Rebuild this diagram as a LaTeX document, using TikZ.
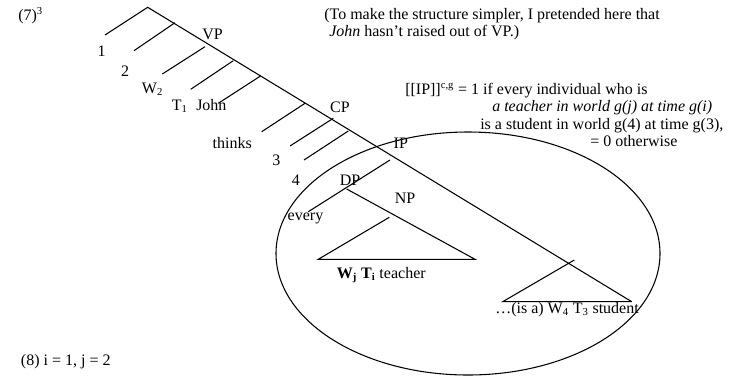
\documentclass[tikz,border=0pt]{standalone}
\usepackage{fontspec}
\setmainfont{Liberation Serif}
\usetikzlibrary{positioning}

\begin{document}
\begin{tikzpicture}[
  x=0.75pt, y=-0.75pt,
  branch/.style={draw=black, line width=0.8pt},
  lbl/.style={inner sep=0pt, anchor=base, font=\fontsize{12}{14}\selectfont},
  note/.style={inner sep=0pt, anchor=base west, font=\fontsize{12}{14}\selectfont}
]
\useasboundingbox (0,0) rectangle (739,379);

\coordinate (top) at (147.7,7.3);
\coordinate (s2) at (175,22.7);
\coordinate (sW) at (205,46.7);
\coordinate (sT) at (233.3,60.7);
\coordinate (sJ) at (260.5,76);
\coordinate (sth) at (305,103.3);
\coordinate (s3) at (333.3,118.3);
\coordinate (s4) at (348.3,131);
\coordinate (sIP) at (390,160);
\coordinate (t1) at (105,35);
\coordinate (t2) at (134,50.7);
\coordinate (tW) at (162.3,74);
\coordinate (tT) at (190.7,89.3);
\coordinate (tJ) at (218.3,103.3);
\coordinate (tth) at (261.7,131.7);
\coordinate (t3) at (290,146);
\coordinate (t4) at (304,160);
\coordinate (tev) at (308.3,211.7);
\coordinate (dp) at (346.7,189);
\coordinate (teachA) at (389.3,217.3);
\coordinate (teachL) at (318.3,259.3);
\coordinate (teachR) at (475,259.3);
\coordinate (studA) at (574.3,260);
\coordinate (studL) at (502.7,301.7);
\coordinate (studR) at (631.7,301.7);

\node[note] (ex7) at (18,20) {(7)\textsuperscript{3}};
\node[lbl] (one) at (101.7,56.7) {1};
\node[lbl] (two) at (125,76) {2};
\node[lbl] (vp) at (212.5,39.3) {VP};
\node[note] (wtwo) at (141.7,93.3) {W\textsubscript{2}};
\node[note] (tone) at (171.7,110.5) {T\textsubscript{1}};
\node[note] (john) at (196,110.5) {John};
\node[lbl] (cp) at (340,112.7) {CP};
\node[lbl] (thinks) at (232.3,148) {thinks};
\node[lbl] (three) at (276.3,165.7) {3};
\node[lbl] (four) at (295.8,185) {4};
\node[lbl] (dplbl) at (350,185) {DP};
\node[lbl] (np) at (405,203.3) {NP};
\node[lbl] (every) at (305.5,220) {every};
\node[lbl] (ip) at (400.8,148.3) {IP};
\node[note] (teacher) at (336.7,278.3) {\textbf{W\textsubscript{j} T\textsubscript{i}} teacher};
\node[note] (student) at (495,313.3) {…(is a) W\textsubscript{4} T\textsubscript{3} student};
\node[note] (ex8) at (20.7,365) {(8) i = 1, j = 2};

\node[note] (remA) at (324,19.5) {(To make the structure simpler, I pretended here that};
\node[note] (remB) at (329,36.7) {\textit{John} hasn’t raised out of VP.)};
\node[note] (ipA) at (405,94) {[[IP]]\textsuperscript{c,g} = 1 if every individual who is};
\node[note] (ipB) at (492,111.5) {\textit{a teacher in world g(j) at time g(i)}};
\node[note] (ipC) at (480,129.3) {is a student in world g(4) at time g(3),};
\node[note] (ipD) at (590,146.7) {= 0 otherwise};

\draw[branch] (t1) -- (top) -- (studR);
\draw[branch] (s2) -- (t2);
\draw[branch] (sW) -- (tW);
\draw[branch] (sT) -- (tT);
\draw[branch] (sJ) -- (tJ);
\draw[branch] (sth) -- (tth);
\draw[branch] (s3) -- (t3);
\draw[branch] (s4) -- (t4);
\draw[branch] (sIP) -- (tev);
\draw[branch] (dp) -- (teachR) -- (teachL) -- (teachA);
\draw[branch] (studA) -- (studL) -- (studR);
\draw[branch] (468,253.5) ellipse [x radius=192, y radius=121.5];
\end{tikzpicture}
\end{document}
